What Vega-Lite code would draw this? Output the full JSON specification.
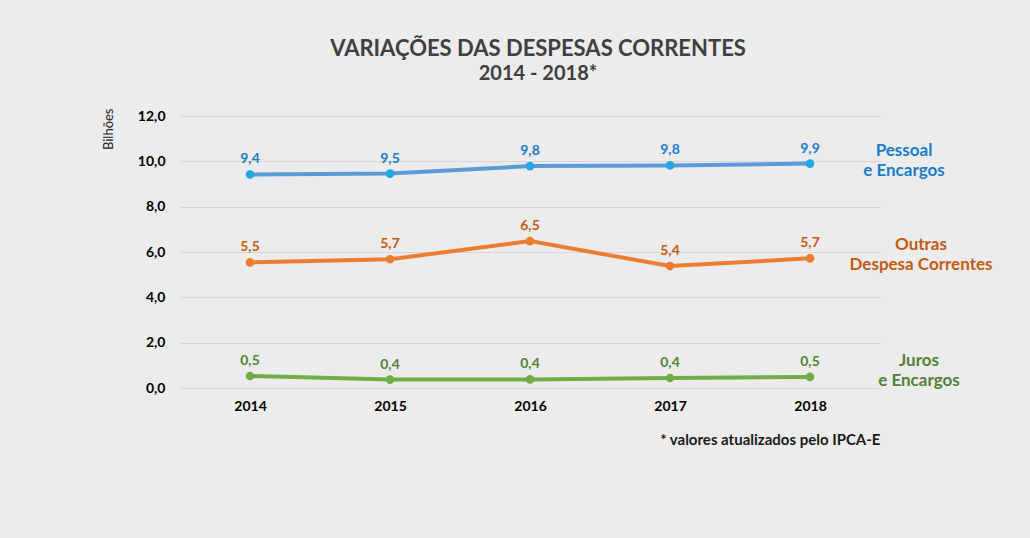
{
  "$schema": "https://vega.github.io/schema/vega-lite/v6.json",
  "width": 700,
  "height": 272,
  "autosize": "none",
  "padding": {"left": 180, "top": 116, "right": 150, "bottom": 150},
  "background": "#ececec",
  "config": {
    "locale": {"number": {"decimal": ",", "thousands": ".", "grouping": [3], "currency": ["R$ ", ""]}},
    "view": {"stroke": null},
    "font": "Lato"
  },
  "title": {
    "text": "VARIAÇÕES DAS DESPESAS CORRENTES",
    "subtitle": "2014 - 2018*",
    "fontSize": 22,
    "subtitleFontSize": 20,
    "font": "Lato",
    "subtitleFont": "Lato",
    "fontWeight": "bold",
    "subtitleFontWeight": "bold",
    "color": "#404040",
    "subtitleColor": "#404040",
    "anchor": "middle",
    "frame": "group",
    "offset": 23,
    "dx": 8,
    "subtitlePadding": 3
  },
  "data": {
    "values": [
      {"ano": "2014", "serie": "Pessoal", "nome": "Pessoal\ne Encargos", "valor": 9.42},
      {"ano": "2015", "serie": "Pessoal", "nome": "Pessoal\ne Encargos", "valor": 9.46},
      {"ano": "2016", "serie": "Pessoal", "nome": "Pessoal\ne Encargos", "valor": 9.79},
      {"ano": "2017", "serie": "Pessoal", "nome": "Pessoal\ne Encargos", "valor": 9.82},
      {"ano": "2018", "serie": "Pessoal", "nome": "Pessoal\ne Encargos", "valor": 9.9},
      {"ano": "2014", "serie": "Outras", "nome": "Outras\nDespesa Correntes", "valor": 5.54},
      {"ano": "2015", "serie": "Outras", "nome": "Outras\nDespesa Correntes", "valor": 5.68},
      {"ano": "2016", "serie": "Outras", "nome": "Outras\nDespesa Correntes", "valor": 6.48},
      {"ano": "2017", "serie": "Outras", "nome": "Outras\nDespesa Correntes", "valor": 5.38},
      {"ano": "2018", "serie": "Outras", "nome": "Outras\nDespesa Correntes", "valor": 5.72},
      {"ano": "2014", "serie": "Juros", "nome": "Juros\ne Encargos", "valor": 0.53},
      {"ano": "2015", "serie": "Juros", "nome": "Juros\ne Encargos", "valor": 0.37},
      {"ano": "2016", "serie": "Juros", "nome": "Juros\ne Encargos", "valor": 0.38},
      {"ano": "2017", "serie": "Juros", "nome": "Juros\ne Encargos", "valor": 0.44},
      {"ano": "2018", "serie": "Juros", "nome": "Juros\ne Encargos", "valor": 0.49}
    ]
  },
  "encoding": {
    "x": {
      "field": "ano",
      "type": "ordinal",
      "scale": {"type": "point", "padding": 0.5},
      "axis": {
        "title": "* valores atualizados pelo IPCA-E",
        "titleAnchor": "end",
        "titleFont": "Lato",
        "titleFontSize": 15,
        "titleFontWeight": "bold",
        "titleColor": "#1a1a1a",
        "titlePadding": 19,
        "labelAngle": 0,
        "labelFont": "Lato",
        "labelFontSize": 14,
        "labelFontWeight": "bold",
        "labelColor": "#000000",
        "labelPadding": 11,
        "ticks": false,
        "domain": false,
        "grid": false
      }
    },
    "y": {
      "field": "valor",
      "type": "quantitative",
      "scale": {"domain": [0, 12], "nice": false},
      "axis": {
        "values": [0, 2, 4, 6, 8, 10, 12],
        "format": ".1f",
        "title": "Bilhões",
        "titleAnchor": "end",
        "titleFont": "Lato",
        "titleFontSize": 13,
        "titleFontWeight": "normal",
        "titleColor": "#222222",
        "titlePadding": 22,
        "titleY": -8,
        "labelFont": "Lato",
        "labelFontSize": 14,
        "labelFontWeight": "bold",
        "labelColor": "#000000",
        "labelPadding": 15,
        "ticks": false,
        "domain": false,
        "grid": true,
        "gridColor": "#d6d6d6",
        "gridWidth": 1
      }
    }
  },
  "layer": [
    {
      "mark": {"type": "line", "strokeWidth": 4},
      "encoding": {
        "color": {
          "field": "serie",
          "type": "nominal",
          "scale": {"domain": ["Pessoal", "Outras", "Juros"], "range": ["#5b9bd5", "#ed7d31", "#70ad47"]},
          "legend": null
        }
      }
    },
    {
      "mark": {"type": "point", "filled": true, "size": 75, "opacity": 1},
      "encoding": {
        "color": {
          "field": "serie",
          "type": "nominal",
          "scale": {"domain": ["Pessoal", "Outras", "Juros"], "range": ["#22a7e6", "#ed7d31", "#70ad47"]},
          "legend": null
        }
      }
    },
    {
      "mark": {"type": "text", "baseline": "bottom", "dy": -8, "fontSize": 14, "fontWeight": "bold", "font": "Lato"},
      "encoding": {
        "text": {"field": "valor", "type": "quantitative", "format": ".1f"},
        "color": {
          "field": "serie",
          "type": "nominal",
          "scale": {"domain": ["Pessoal", "Outras", "Juros"], "range": ["#1a7ccb", "#c55a11", "#548235"]},
          "legend": null
        }
      }
    },
    {
      "transform": [{"filter": "datum.ano == '2018' && datum.serie == 'Pessoal'"}],
      "mark": {"type": "text", "lineBreak": "\n", "align": "center", "baseline": "middle", "dx": 94, "dy": -13, "fontSize": 17, "fontWeight": "bold", "font": "Lato", "lineHeight": 20, "color": "#1a7ccb"},
      "encoding": {"text": {"field": "nome", "type": "nominal"}}
    },
    {
      "transform": [{"filter": "datum.ano == '2018' && datum.serie == 'Outras'"}],
      "mark": {"type": "text", "lineBreak": "\n", "align": "center", "baseline": "middle", "dx": 111, "dy": -13, "fontSize": 17, "fontWeight": "bold", "font": "Lato", "lineHeight": 20, "color": "#c55a11"},
      "encoding": {"text": {"field": "nome", "type": "nominal"}}
    },
    {
      "transform": [{"filter": "datum.ano == '2018' && datum.serie == 'Juros'"}],
      "mark": {"type": "text", "lineBreak": "\n", "align": "center", "baseline": "middle", "dx": 109, "dy": -16, "fontSize": 17, "fontWeight": "bold", "font": "Lato", "lineHeight": 20, "color": "#548235"},
      "encoding": {"text": {"field": "nome", "type": "nominal"}}
    }
  ],
  "resolve": {"scale": {"color": "independent"}}
}
